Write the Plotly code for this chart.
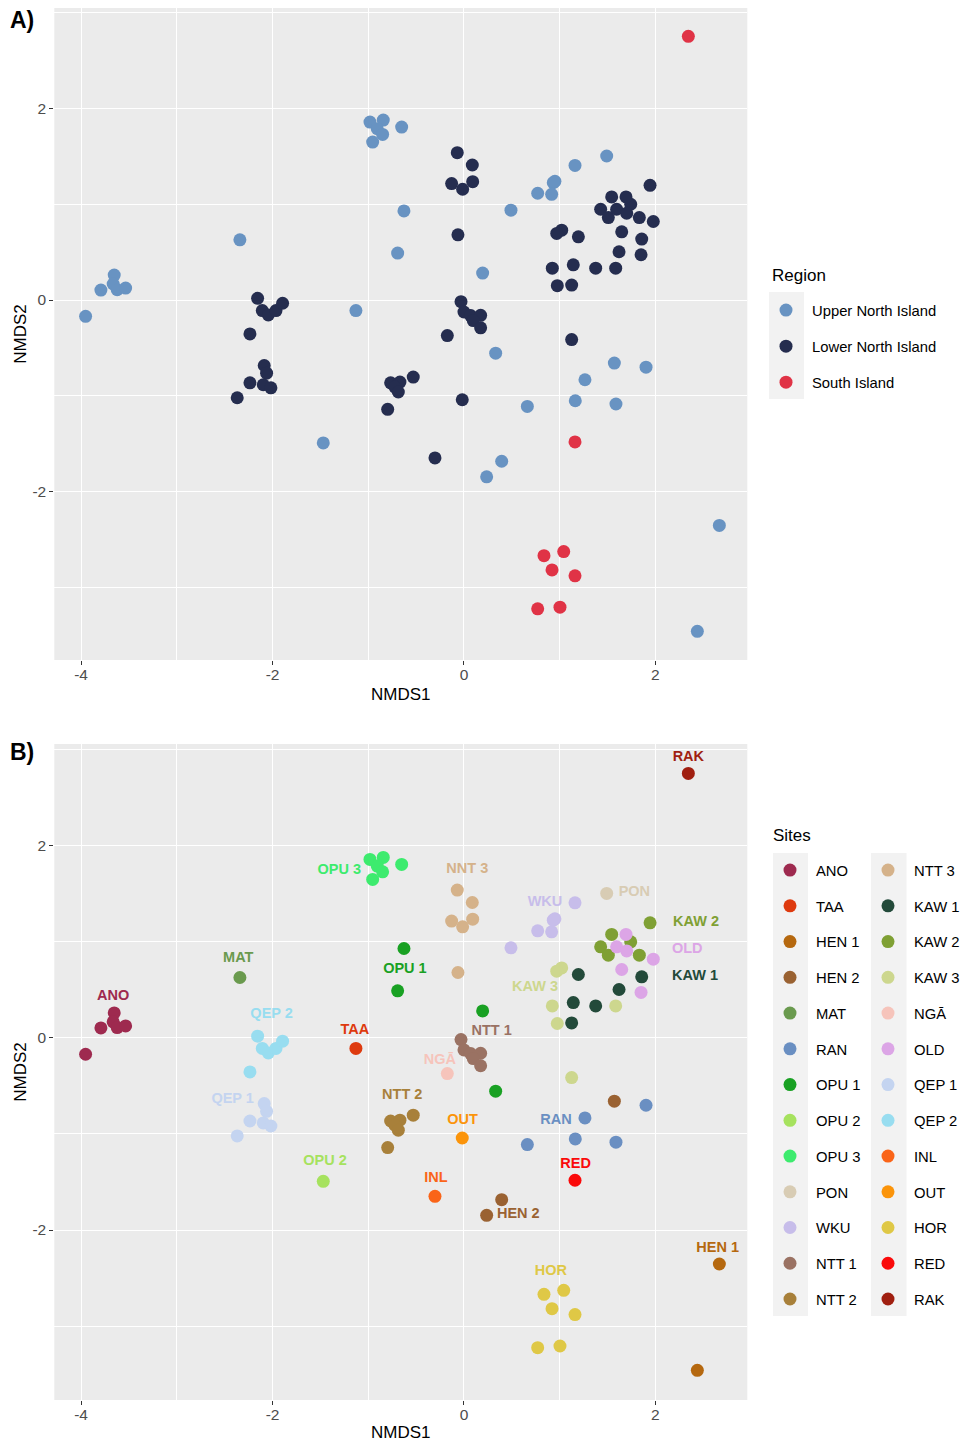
import plotly.graph_objects as go

W, H = 968, 1442      # browser window
OFF = 8               # default page body margin
FW, FH = W - OFF, H - OFF

# ---------------- data ----------------
sites = ["ANO", "TAA", "HEN 1", "HEN 2", "MAT", "RAN", "OPU 1", "OPU 2", "OPU 3", "PON", "WKU", "NTT 1", "NTT 2",
         "NTT 3", "KAW 1", "KAW 2", "KAW 3", "NGĀ", "OLD", "QEP 1", "QEP 2", "INL", "OUT", "HOR", "RED", "RAK"]
site_region = ["Upper North Island"] * 11 + ["Lower North Island"] * 12 + ["South Island"] * 3
regions = ["Upper North Island", "Lower North Island", "South Island"]

point_site = (["ANO"] * 6 + ["TAA"] + ["HEN 1"] * 2 + ["HEN 2"] * 3 + ["MAT"] + ["RAN"] * 5 + ["OPU 1"] * 4 +
              ["OPU 2"] + ["OPU 3"] * 6 + ["PON"] + ["WKU"] * 6 + ["NTT 1"] * 6 + ["NTT 2"] * 6 + ["NTT 3"] * 6 +
              ["KAW 1"] * 6 + ["KAW 2"] * 6 + ["KAW 3"] * 6 + ["NGĀ"] + ["OLD"] * 6 + ["QEP 1"] * 6 +
              ["QEP 2"] * 6 + ["INL"] + ["OUT"] + ["HOR"] * 6 + ["RED"] + ["RAK"])
nmds1 = [-3.654, -3.793, -3.665, -3.623, -3.535, -3.953,
         -1.129,
         2.668, 2.438,
         0.394, 0.237, 1.571,
         -2.341,
         1.264, 1.902, 0.662, 1.163, 1.588,
         -0.627, -0.693, 0.195, 0.331,
         -1.470,
         -0.982, -0.843, -0.906, -0.850, -0.954, -0.651,
         1.491,
         1.160, 0.933, 0.770, 0.916, 0.491, 0.950,
         -0.031, 0.000, 0.070, 0.174, 0.097, 0.174,
         -0.766, -0.669, -0.721, -0.686, -0.530, -0.797,
         -0.070, 0.087, -0.129, -0.014, 0.091, -0.063,
         1.195, 1.857, 1.620, 1.142, 1.376, 1.125,
         1.944, 1.543, 1.742, 1.428, 1.508, 1.832,
         1.021, 0.969, 0.923, 1.585, 0.975, 1.125,
         -0.174,
         1.693, 1.595, 1.700, 1.978, 1.648, 1.850,
         -2.087, -2.062, -2.236, -2.097, -2.017, -2.369,
         -2.156, -2.107, -2.044, -1.964, -1.895, -2.236,
         -0.303,
         -0.018,
         0.836, 1.042, 0.920, 1.160, 0.770, 1.003,
         1.160,
         2.344]
nmds2 = [0.260, 0.104, 0.167, 0.108, 0.125, -0.170,
         -0.110,
         -2.354, -3.461,
         -1.684, -1.847, -0.659,
         0.629,
         -0.833, -0.701, -1.111, -1.052, -1.086,
         0.931, 0.490, 0.281, -0.555,
         -1.493,
         1.858, 1.879, 1.789, 1.729, 1.650, 1.806,
         1.504,
         1.406, 1.226, 1.115, 1.104, 0.938, 1.240,
         -0.017, -0.125, -0.163, -0.160, -0.215, -0.290,
         -0.865, -0.857, -0.909, -0.961, -0.805, -1.142,
         1.539, 1.410, 1.216, 1.157, 1.236, 0.681,
         0.660, 0.636, 0.504, 0.368, 0.333, 0.156,
         1.198, 1.077, 1.000, 0.948, 0.861, 0.861,
         0.729, 0.695, 0.333, 0.333, 0.150, -0.413,
         -0.371,
         1.077, 0.948, 0.906, 0.820, 0.712, 0.473,
         -0.684, -0.764, -0.865, -0.885, -0.917, -1.021,
         0.018, -0.110, -0.156, -0.110, -0.034, -0.354,
         -1.649,
         -1.042,
         -2.670, -2.628, -2.819, -2.881, -3.225, -3.208,
         -1.482,
         2.754]

label_site = ["ANO", "MAT", "QEP 2", "TAA", "OPU 3", "OPU 1", "NTT 3", "NGĀ", "NTT 1", "WKU", "PON", "KAW 2",
              "OLD", "KAW 1", "KAW 3", "RAK", "QEP 1", "NTT 2", "OUT", "OPU 2", "INL", "RAN", "RED", "HEN 2",
              "HEN 1", "HOR"]
label_text = ["ANO", "MAT", "QEP 2", "TAA", "OPU 3", "OPU 1", "NNT 3", "NGĀ", "NTT 1", "WKU", "PON", "KAW 2",
              "OLD", "KAW 1", "KAW 3", "RAK", "QEP 1", "NTT 2", "OUT", "OPU 2", "INL", "RAN", "RED", "HEN 2",
              "HEN 1", "HOR"]
label_x = [-3.665, -2.358, -2.010, -1.139, -1.303, -0.617, 0.035, -0.251, 0.289, 0.846, 1.780, 2.424,
           2.333, 2.414, 0.742, 2.344, -2.417, -0.645, -0.014, -1.452, -0.293, 0.961, 1.167, 0.568,
           2.651, 0.909]
label_y = [0.434, 0.830, 0.243, 0.080, 1.740, 0.712, 1.754, -0.232, 0.073, 1.406, 1.510, 1.202,
           0.921, 0.643, 0.525, 2.920, -0.639, -0.597, -0.857, -1.281, -1.465, -0.857, -1.316, -1.840,
           -2.187, -2.427]

x_ticks = [-4, -2, 0, 2]
x_tick_text = ["-4", "-2", "0", "2"]
y_ticks = [-2, 0, 2]
y_tick_text = ["-2", "0", "2"]

# ---------------- styles ----------------
region_colors = {"Upper North Island": "#6893C2", "Lower North Island": "#252D4F", "South Island": "#E03346"}
site_colors = {
    "ANO": "#9E2A4F", "TAA": "#DE3A0E", "HEN 1": "#B5680F", "HEN 2": "#9A6232", "MAT": "#6A9A4E",
    "RAN": "#6A8FC2", "OPU 1": "#19A123", "OPU 2": "#A6E25E", "OPU 3": "#3DEB6E", "PON": "#D8CCB4",
    "WKU": "#C7BDEA", "NTT 1": "#9A7263", "NTT 2": "#A8803A", "NTT 3": "#D5B28A", "KAW 1": "#234A3A",
    "KAW 2": "#7FA034", "KAW 3": "#CDD78E", "NGĀ": "#F6C4BB", "OLD": "#DCA5E6", "QEP 1": "#C4D4F0",
    "QEP 2": "#98DDF0", "INL": "#FA6418", "OUT": "#FB940A", "HOR": "#DFC846", "RED": "#FA0A0A",
    "RAK": "#A01F10",
}
FONT = "Liberation Sans, Arial, sans-serif"
MSIZE = 13


def px_x(p):
    return (p - OFF) / FW


def px_y(p):
    return 1 - (p - OFF) / FH


site_to_region = dict(zip(sites, site_region))
fig = go.Figure()

# Panel A: by region
for reg in regions:
    xs = [x for x, s in zip(nmds1, point_site) if site_to_region[s] == reg]
    ys = [y for y, s in zip(nmds2, point_site) if site_to_region[s] == reg]
    fig.add_trace(go.Scatter(x=xs, y=ys, mode="markers", name=reg, legend="legend", legendgroup="r_" + reg,
                             marker=dict(size=MSIZE, color=region_colors[reg], line=dict(width=0)),
                             xaxis="x", yaxis="y"))

# Panel B: by site
for i, s in enumerate(sites):
    xs = [x for x, ps in zip(nmds1, point_site) if ps == s]
    ys = [y for y, ps in zip(nmds2, point_site) if ps == s]
    fig.add_trace(go.Scatter(x=xs, y=ys, mode="markers", name=s,
                             legend="legend2" if i < 13 else "legend3", legendgroup="s_" + s,
                             marker=dict(size=MSIZE, color=site_colors[s], line=dict(width=0)),
                             xaxis="x2", yaxis="y2"))

fig.add_trace(go.Scatter(x=label_x, y=label_y, mode="text", text=label_text, showlegend=False,
                         hoverinfo="skip", xaxis="x2", yaxis="y2", cliponaxis=False,
                         textfont=dict(family=FONT, size=14.5, weight="bold",
                                       color=[site_colors[s] for s in label_site])))

x_dom = [px_x(54.3), px_x(747.3)]
yA = [px_y(660), 1.0]
yB = [px_y(1400), px_y(744)]
xr = [-4.28, 2.96]
yrA = [-3.76, 3.05]
yrB = [-3.77, 3.06]


def xax(domain, anchor):
    return dict(domain=domain, anchor=anchor, range=xr, tickvals=x_ticks, ticktext=x_tick_text,
                automargin=False, ticklabelstandoff=-4,
                showgrid=True, gridcolor="white", gridwidth=1.4, zeroline=False, showline=False,
                ticks="outside", ticklen=4, tickwidth=1.1, tickcolor="#333333",
                tickfont=dict(family=FONT, size=15.5, color="#4D4D4D"),
                minor=dict(dtick=1, tick0=0, showgrid=True, gridcolor="white", gridwidth=0.6),
                title=dict(text="NMDS1", font=dict(family=FONT, size=17, color="black"), standoff=6))


def yax(domain, anchor, yr):
    return dict(domain=domain, anchor=anchor, range=yr, tickvals=y_ticks, ticktext=y_tick_text,
                automargin=False,
                showgrid=True, gridcolor="white", gridwidth=1.4, zeroline=False, showline=False,
                ticks="outside", ticklen=4, tickwidth=1.1, tickcolor="#333333",
                tickfont=dict(family=FONT, size=15.5, color="#4D4D4D"),
                minor=dict(dtick=1, tick0=1, showgrid=True, gridcolor="white", gridwidth=0.6),
                title=dict(text="NMDS2", font=dict(family=FONT, size=17, color="black"), standoff=1))


leg_common = dict(xanchor="left", yanchor="top", bgcolor="rgba(0,0,0,0)",
                  font=dict(family=FONT, size=14.8, color="black"), traceorder="grouped",
                  itemwidth=42, itemclick=False, itemdoubleclick=False)

shapes = []
for (x0, x1, y0, y1) in [(769, 804, 292, 399), (773, 808, 853, 1316), (871, 906.5, 853, 1316)]:
    shapes.append(dict(type="rect", xref="paper", yref="paper", x0=px_x(x0), x1=px_x(x1),
                       y0=px_y(y1), y1=px_y(y0), fillcolor="#F2F2F2", line=dict(width=0),
                       layer="below"))


def ann(text, x, y, size, bold=False):
    return dict(text=f"<b>{text}</b>" if bold else text, x=px_x(x), y=px_y(y), xref="paper", yref="paper",
                xanchor="left", yanchor="middle", showarrow=False,
                font=dict(family=FONT, size=size, color="black"))


fig.update_layout(
    width=FW, height=FH, margin=dict(l=0, r=0, t=0, b=0, pad=0), autosize=False,
    paper_bgcolor="white", plot_bgcolor="#EBEBEB",
    font=dict(family=FONT),
    xaxis=xax(x_dom, "y"), yaxis=yax(yA, "x", yrA),
    xaxis2=xax(x_dom, "y2"), yaxis2=yax(yB, "x2", yrB),
    legend=dict(x=px_x(760), y=px_y(294), tracegroupgap=13.8, **leg_common),
    legend2=dict(x=px_x(764), y=px_y(854), tracegroupgap=13.5, **leg_common),
    legend3=dict(x=px_x(862), y=px_y(854), tracegroupgap=13.5, **leg_common),
    shapes=shapes,
    annotations=[
        ann("A)", 8, 20, 23, bold=True),
        ann("B)", 8, 752, 23, bold=True),
        ann("Region", 770, 276, 17),
        ann("Sites", 771, 836, 17),
    ],
)

fig.write_html("out.html")
